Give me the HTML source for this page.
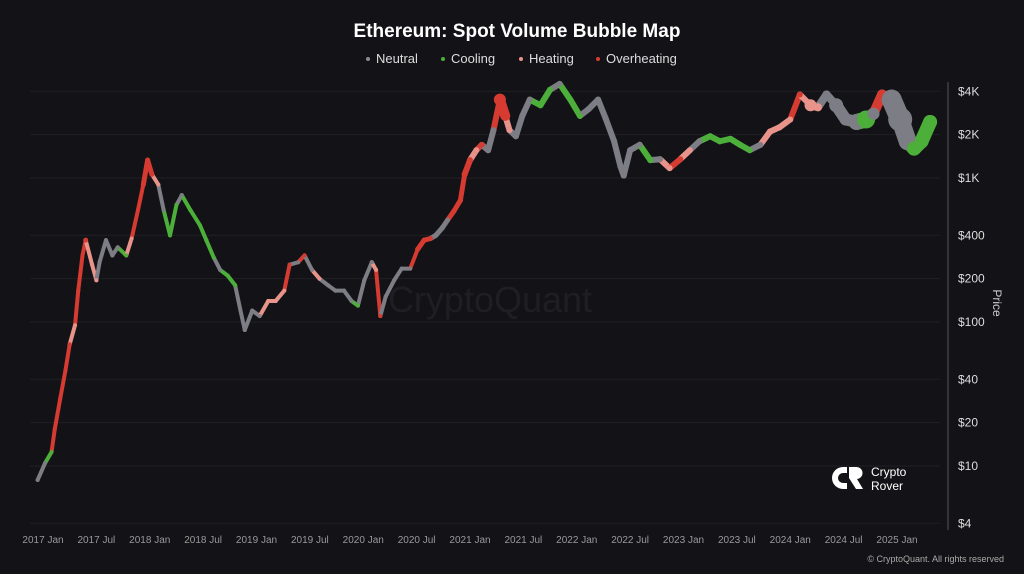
<!DOCTYPE html>
<html><head><meta charset="utf-8"><style>
body{margin:0;background:#131317;width:1024px;height:574px;overflow:hidden;font-family:"Liberation Sans",sans-serif}
svg{display:block}
</style></head><body>
<svg width="1024" height="574" viewBox="0 0 1024 574" xmlns="http://www.w3.org/2000/svg">
<rect width="1024" height="574" fill="#131317"/>
<text x="517" y="37" fill="#fff" font-size="19" font-weight="bold" text-anchor="middle">Ethereum: Spot Volume Bubble Map</text>
<g font-size="13" fill="#ddd">
 <g><circle cx="368" cy="59" r="2" fill="#8a8a92"/><text x="376" y="63">Neutral</text></g>
 <g><circle cx="443" cy="59" r="2" fill="#4caf3a"/><text x="451" y="63">Cooling</text></g>
 <g><circle cx="521" cy="59" r="2" fill="#e8948a"/><text x="529" y="63">Heating</text></g>
 <g><circle cx="598" cy="59" r="2" fill="#d63b32"/><text x="606" y="63">Overheating</text></g>
</g>
<g id="grid"></g>
<text x="490" y="312" fill="#1e1e24" font-size="36" text-anchor="middle">CryptoQuant</text>
<line x1="948" y1="82" x2="948" y2="530" stroke="#555" stroke-width="1"/>
<g id="yaxis"></g>
<g id="xaxis"></g>
<text transform="translate(993,303) rotate(90)" fill="#ccc" font-size="12" text-anchor="middle">Price</text>
<g id="marks"></g>
<g>
 <path d="M843 467 a10 10 0 1 0 0 22 l4 0 0 -6 -4 0 a5 5 0 1 1 0 -10 l4 0 0 -6z" fill="#fff"/>
 <path d="M849 467 l7 0 a6 6 0 0 1 1 12 l6 10 -7 0 -7 -11z" fill="#fff"/>
 <text x="871" y="476" fill="#fff" font-size="12">Crypto</text>
 <text x="871" y="490" fill="#fff" font-size="12">Rover</text>
</g>
<text x="1004" y="562" fill="#aaa" font-size="9" text-anchor="end">© CryptoQuant. All rights reserved</text>
</svg>
<script>
const yTicks=[4,10,20,40,100,200,400,1000,2000,4000];
const yTickLabels=["$4","$10","$20","$40","$100","$200","$400","$1K","$2K","$4K"];
const xTicks=[2017,2017.5,2018,2018.5,2019,2019.5,2020,2020.5,2021,2021.5,2022,2022.5,2023,2023.5,2024,2024.5,2025];
const xTickLabels=["2017 Jan","2017 Jul","2018 Jan","2018 Jul","2019 Jan","2019 Jul","2020 Jan","2020 Jul","2021 Jan","2021 Jul","2022 Jan","2022 Jul","2023 Jan","2023 Jul","2024 Jan","2024 Jul","2025 Jan"];
const dates=[2016.95,2017.02,2017.08,2017.11,2017.16,2017.21,2017.25,2017.30,2017.33,2017.37,2017.40,2017.46,2017.50,2017.53,2017.59,2017.65,2017.70,2017.78,2017.83,2017.89,2017.94,2017.98,2018.02,2018.08,2018.13,2018.19,2018.25,2018.30,2018.38,2018.47,2018.53,2018.60,2018.66,2018.73,2018.80,2018.85,2018.89,2018.96,2019.03,2019.11,2019.18,2019.26,2019.31,2019.39,2019.45,2019.52,2019.59,2019.67,2019.74,2019.82,2019.89,2019.95,2020.01,2020.08,2020.12,2020.16,2020.21,2020.29,2020.36,2020.44,2020.51,2020.57,2020.63,2020.68,2020.74,2020.79,2020.85,2020.91,2020.95,2021.00,2021.06,2021.11,2021.17,2021.22,2021.28,2021.33,2021.37,2021.43,2021.49,2021.56,2021.66,2021.75,2021.84,2021.94,2022.03,2022.11,2022.20,2022.27,2022.35,2022.41,2022.44,2022.50,2022.59,2022.69,2022.78,2022.87,2022.97,2023.06,2023.15,2023.25,2023.34,2023.44,2023.53,2023.62,2023.72,2023.81,2023.90,2024.00,2024.09,2024.19,2024.26,2024.34,2024.43,2024.52,2024.62,2024.71,2024.78,2024.86,2024.95,2025.03,2025.10,2025.16,2025.23,2025.31];
const prices=[8,10.5,12.5,18,29,46,70,95,165,290,370,250,195,260,370,290,330,290,380,600,900,1330,1060,900,600,400,650,760,600,470,370,280,230,210,180,120,88,120,110,140,140,165,250,260,290,230,200,180,165,165,140,130,195,260,230,110,150,195,235,235,320,370,380,400,450,510,590,700,1060,1330,1560,1700,1560,2150,3500,2700,2150,1950,2700,3500,3200,4100,4500,3500,2700,3000,3500,2600,1800,1200,1040,1560,1700,1330,1350,1170,1350,1560,1800,1950,1800,1870,1700,1560,1700,2100,2250,2550,3800,3200,3100,3800,3200,2550,2450,2550,2800,3800,3500,2550,1800,1600,1800,2450];
const states=["n","n","c","o","o","o","o","h","o","o","o","h","h","n","n","n","n","c","h","o","o","o","o","h","n","c","c","n","c","c","c","c","n","c","c","n","n","n","n","h","h","h","o","n","o","n","h","n","n","n","n","c","n","n","h","o","n","n","n","n","o","o","o","n","n","n","o","o","o","o","h","o","n","n","o","o","h","n","n","n","c","c","n","c","c","n","n","n","n","n","n","n","n","c","n","h","o","h","n","c","c","c","c","c","n","h","h","h","o","h","h","n","n","n","n","c","n","o","n","n","n","c","c","c"];
const volumes=[2,2,2,2,2,2,2,2,2,2,2.5,2,2,2,2,2,2,2,2,2,2.5,2.5,2.5,2,2,2,2,2,2,2,2,2,2,2,2,2,2,2,2,2,2,2,2,2,2,2,2,2,2,2,2,2,2,2,2,2,2,2,2,2,2.5,2.5,2.5,2.5,2.5,2.5,2.5,2.5,3,3,3,3,3,3,6,5,3,3,3,3,3,3,3,3,3,3,3,3,3,3,3,3,3,3,3,3,3,3,3,3,3,3,3,3,3,3,3,3,3,6,4,4,7,6,8,9,6,5,10,12,9,7,7,7,7];
const colors={n:"#7d7d85",c:"#4caf3a",h:"#e8948a",o:"#d63b32"};
const NS="http://www.w3.org/2000/svg";
const x0=43,pxPerYear=106.75,y10=466,pxPerDecade=144;
function xs(t){return x0+(t-2017)*pxPerYear;}
function ys(p){return y10-pxPerDecade*Math.log10(p/10);}
const grid=document.getElementById('grid'),ya=document.getElementById('yaxis'),xa=document.getElementById('xaxis'),mk=document.getElementById('marks');
yTicks.forEach((v,i)=>{
 const l=document.createElementNS(NS,'line');
 
 
 l.setAttribute('x1',30);l.setAttribute('x2',940);l.setAttribute('y1',ys(v));l.setAttribute('y2',ys(v));
 l.setAttribute('stroke','#1f1f25');l.setAttribute('stroke-width','1');grid.appendChild(l);
 const t=document.createElementNS(NS,'text');
 
 
 t.setAttribute('x',958);t.setAttribute('y',ys(v)+4);t.setAttribute('fill','#ddd');t.setAttribute('font-size','12');
 t.textContent=yTickLabels[i];ya.appendChild(t);
});
xTicks.forEach((v,i)=>{
 const t=document.createElementNS(NS,'text');
 
 
 t.setAttribute('x',xs(v));t.setAttribute('y',543);t.setAttribute('fill','#999');t.setAttribute('font-size','10');t.setAttribute('text-anchor','middle');
 t.textContent=xTickLabels[i];xa.appendChild(t);
});
for(let i=1;i<dates.length;i++){
 const l=document.createElementNS(NS,'line');
 
 
 l.setAttribute('x1',xs(dates[i-1]));l.setAttribute('y1',ys(prices[i-1]));l.setAttribute('x2',xs(dates[i]));l.setAttribute('y2',ys(prices[i]));
 l.setAttribute('stroke',colors[states[i]]);l.setAttribute('stroke-width',Math.min(volumes[i],volumes[i-1])*2);l.setAttribute('stroke-linecap','round');
 mk.appendChild(l);
}
for(let i=0;i<dates.length;i++){
 const c=document.createElementNS(NS,'circle');
 
 
 c.setAttribute('cx',xs(dates[i]));c.setAttribute('cy',ys(prices[i]));c.setAttribute('r',volumes[i]);c.setAttribute('fill',colors[states[i]]);
 mk.appendChild(c);
}
</script>
</body></html>
